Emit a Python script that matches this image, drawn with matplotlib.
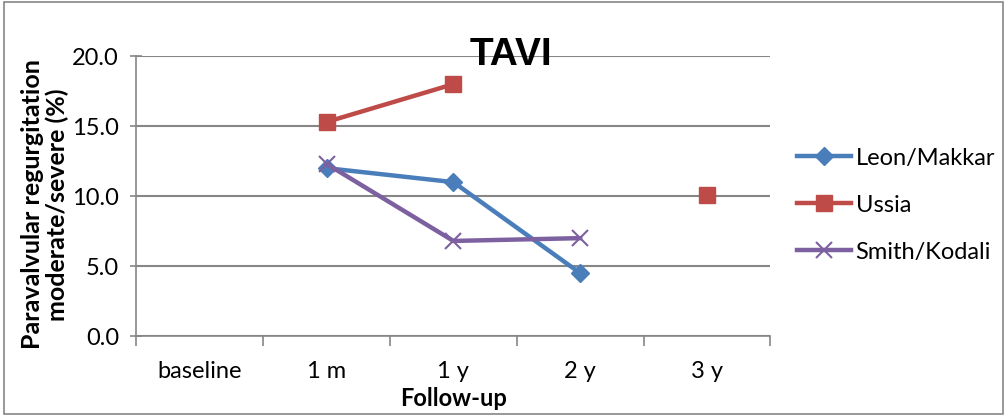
import numpy as np
import matplotlib.pyplot as plt
from matplotlib.patches import Rectangle

# donnees
categories = ["baseline", "1 m", "1 y", "2 y", "3 y"]
leon_makkar = [np.nan, 12.0, 11.0, 4.5, np.nan]
ussia = [np.nan, 15.3, 18.0, np.nan, 10.1]
smith_kodali = [np.nan, 12.3, 6.8, 7.0, np.nan]

police = "Lato"
gris = "#868686"

fig = plt.figure(figsize=(10.07, 4.16), dpi=100)
ax = fig.add_axes([0.1355, 0.192, 0.6295, 0.673])

x = np.arange(len(categories))

ax.plot(x, leon_makkar, color="#4A7EBB", lw=3.2, marker="D", ms=9, label="Leon/Makkar")
ax.plot(x, ussia, color="#BE4B48", lw=3.2, marker="s", ms=11, label="Ussia")
ax.plot(x, smith_kodali, color="#7D60A0", lw=3.2, marker="x", ms=11, mew=1.5, label="Smith/Kodali")

ax.set_xlim(-0.5, len(categories) - 0.5)
ax.set_ylim(0, 20)
ax.set_yticks(np.arange(0, 20.1, 5))
ax.set_yticklabels([f"{v:.1f}" for v in np.arange(0, 20.1, 5)], fontsize=17, family=police)
ax.yaxis.grid(True, color=gris, lw=1.5)
ax.set_axisbelow(True)

# ticks aux limites des categories, etiquettes au centre
ax.set_xticks(np.arange(-0.5, len(categories)), minor=False)
ax.set_xticklabels([])
ax.set_xticks(x, minor=True)
ax.set_xticklabels(categories, minor=True, fontsize=17, family=police)
ax.tick_params(axis="x", which="minor", length=0, pad=18)
ax.tick_params(axis="x", which="major", length=7, color=gris, width=1.2)
ax.tick_params(axis="y", length=9, direction="inout", color=gris, width=1.2, pad=8)

for s in ["top", "right"]:
    ax.spines[s].set_visible(False)
for s in ["left", "bottom"]:
    ax.spines[s].set_color(gris)
    ax.spines[s].set_linewidth(1.2)

ax.set_xlabel("Follow-up", fontsize=17, fontweight="bold", family=police)
ax.xaxis.set_label_coords(0.5, -0.18)
ax.set_ylabel("Paravalvular regurgitation\nmoderate/severe (%)", fontsize=18,
              fontweight="bold", family=police, linespacing=1.1)
ax.yaxis.set_label_coords(-0.106, 0.47)

fig.text(0.507, 0.868, "TAVI", fontsize=28, fontweight="bold",
         family="Liberation Sans", ha="center", va="center")

fig.legend(loc="center left", bbox_to_anchor=(0.77, 0.507), frameon=False,
           prop={"family": police, "size": 17}, handlelength=2.3,
           handletextpad=0.2, labelspacing=1.1)

# cadre du graphique
fig.patches.append(Rectangle((0.004, 0.004), 0.992, 0.992, transform=fig.transFigure,
                             fill=False, edgecolor=gris, lw=1.2))

fig.savefig("out.png", dpi=100)
